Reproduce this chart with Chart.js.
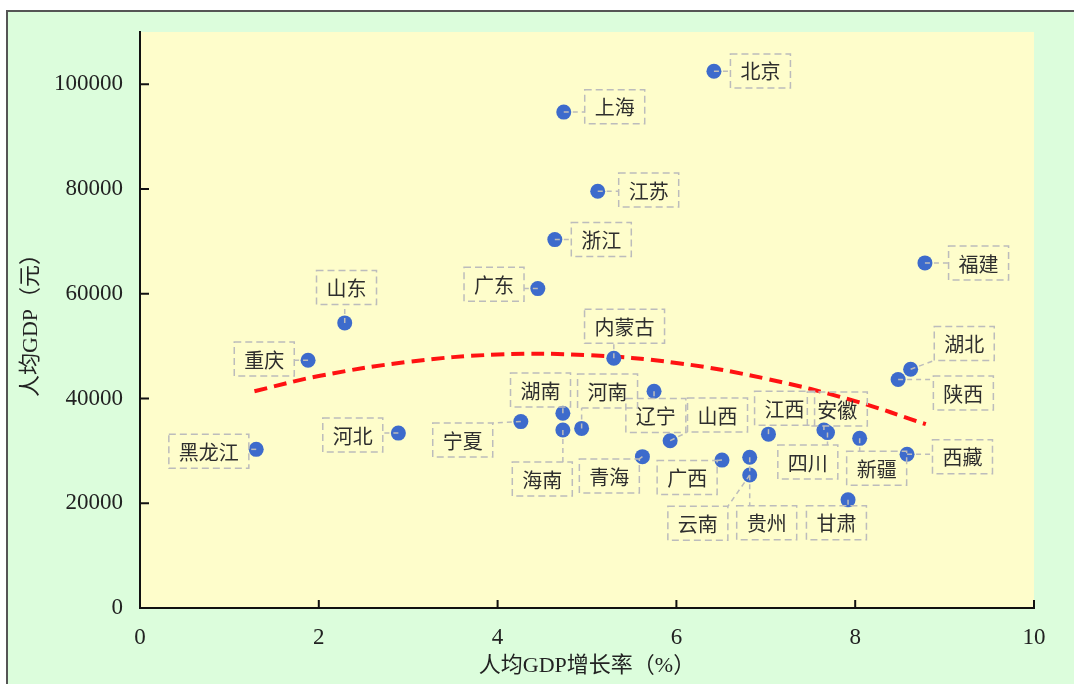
<!DOCTYPE html>
<html><head><meta charset="utf-8">
<script src="https://cdn.jsdelivr.net/npm/chart.js@4.4.0/dist/chart.umd.min.js"></script>
<style>html,body{margin:0;padding:0;background:#fff;}</style>
</head><body>
<canvas id="c" width="1074" height="684"></canvas>
<script>
const provinces = ['北京','上海','江苏','浙江','福建','广东','山东','内蒙古','重庆','湖北','陕西','辽宁','湖南','宁夏','海南','河南','山西','江西','安徽','四川','新疆','河北','黑龙江','西藏','青海','广西','贵州','云南','甘肃'];
const growthRate = [6.42,4.74,5.12,4.64,8.78,4.45,2.29,5.30,1.88,8.62,8.48,5.75,4.73,4.26,4.73,4.94,5.93,7.03,7.65,7.69,8.05,2.89,1.30,8.58,5.62,6.51,6.82,6.82,7.92];
const gdpPerCapita = [102500,94700,79600,70350,65900,61000,54450,47700,47300,45600,43650,41400,37200,35600,34000,34300,31950,33200,34000,33500,32400,33400,30300,29350,28900,28250,28800,25400,20650];
const labelX = [6.94,5.31,5.69,5.16,9.38,3.96,2.31,5.42,1.39,9.22,9.21,5.77,4.48,3.61,4.50,5.23,6.46,7.21,7.80,7.47,8.24,2.38,0.77,9.20,5.25,6.12,7.01,6.24,7.79];
const labelY = [102570,95710,79810,70350,65890,61830,61200,53820,47530,50520,41050,36760,41620,32090,24650,41430,36850,38130,38000,27890,26690,33040,29930,28900,25220,24940,16260,16170,16260];
const trendX = [1.28,2,3,4,5,6,7,8,8.79];
const trendY = [41400,44300,47000,48400,48300,46800,43800,39500,35100];
const xTicks = [0,2,4,6,8,10];
const yTicks = [0,20000,40000,60000,80000,100000];

const SERIF = '"Liberation Serif", "Noto Sans CJK SC", serif';

const bgPlugin = {
  id: 'bg',
  beforeDraw(chart) {
    const {ctx, chartArea: a} = chart;
    ctx.save();
    ctx.fillStyle = '#ffffff';
    ctx.fillRect(0, 0, chart.width, chart.height);
    ctx.fillStyle = '#dcfddc';
    ctx.fillRect(7, 11, chart.width - 7, chart.height - 11);
    ctx.strokeStyle = '#555';
    ctx.lineWidth = 2;
    ctx.beginPath();
    ctx.moveTo(7, chart.height); ctx.lineTo(7, 11); ctx.lineTo(chart.width, 11);
    ctx.stroke();
    ctx.fillStyle = '#fefdcb';
    ctx.fillRect(a.left, a.top, a.right - a.left, a.bottom - a.top);
    ctx.restore();
  }
};

const tickPlugin = {
  id: 'innerTicks',
  afterDraw(chart) {
    const {ctx, scales: {x, y}, chartArea: a} = chart;
    ctx.save();
    ctx.strokeStyle = '#111';
    ctx.lineWidth = 2;
    ctx.beginPath();
    xTicks.forEach(v => {
      if (v === 0) return;
      const p = x.getPixelForValue(v);
      ctx.moveTo(p, a.bottom); ctx.lineTo(p, a.bottom - 8);
    });
    yTicks.forEach(v => {
      if (v === 0) return;
      const p = y.getPixelForValue(v);
      ctx.moveTo(a.left, p); ctx.lineTo(a.left + 9, p);
    });
    ctx.stroke();
    ctx.restore();
  }
};

const labelPlugin = {
  id: 'labels',
  afterDatasetsDraw(chart) {
    const {ctx, scales: {x, y}} = chart;
    ctx.save();
    ctx.font = '20px "Noto Sans CJK SC"';
    ctx.textAlign = 'center';
    ctx.textBaseline = 'middle';
    provinces.forEach((name, i) => {
      const px = x.getPixelForValue(growthRate[i]);
      const py = y.getPixelForValue(gdpPerCapita[i]);
      const cx = x.getPixelForValue(labelX[i]);
      const cy = y.getPixelForValue(labelY[i]);
      const w = ctx.measureText(name).width + 20;
      const h = 34;
      const l = cx - w / 2, r = cx + w / 2, t = cy - h / 2, b = cy + h / 2;
      const qx = Math.min(Math.max(px, l), r);
      const qy = Math.min(Math.max(py, t), b);
      ctx.strokeStyle = '#bcbcbc';
      ctx.lineWidth = 1.5;
      ctx.setLineDash([5, 4]);
      ctx.beginPath(); ctx.moveTo(px, py); ctx.lineTo(qx, qy); ctx.stroke();
      ctx.setLineDash([7, 4]);
      ctx.strokeRect(l, t, w, h);
      ctx.setLineDash([]);
      ctx.fillStyle = '#2e2e2e';
      ctx.fillText(name, cx, cy + 1);
    });
    ctx.restore();
  }
};

new Chart(document.getElementById('c'), {
  data: {
    datasets: [
      {
        type: 'line',
        data: trendX.map((v, i) => ({x: v, y: trendY[i]})),
        borderColor: '#ff1212',
        borderWidth: 4,
        borderDash: [13, 7],
        pointRadius: 0,
        fill: false,
        tension: 0.4,
        order: 2
      },
      {
        type: 'scatter',
        data: growthRate.map((v, i) => ({x: v, y: gdpPerCapita[i]})),
        backgroundColor: '#3d6bcc',
        borderWidth: 0,
        pointRadius: 7.5,
        pointHoverRadius: 7.5,
        order: 1
      }
    ]
  },
  options: {
    responsive: false,
    animation: false,
    devicePixelRatio: 1,
    events: [],
    layout: {padding: {top: 32, right: 40, left: 0, bottom: 0}},
    plugins: {legend: {display: false}, tooltip: {enabled: false}},
    scales: {
      x: {
        type: 'linear', min: 0, max: 10,
        afterBuildTicks: s => { s.ticks = xTicks.map(v => ({value: v})); },
        afterFit: s => { s.height = 76; },
        grid: {display: false, drawTicks: false},
        border: {display: true, color: '#111', width: 2},
        ticks: {padding: 16, color: '#222', font: {family: SERIF, size: 23}, maxRotation: 0, autoSkip: false, callback: v => String(v)},
        title: {display: true, text: '人均GDP增长率（%）', color: '#222', font: {family: SERIF, size: 22}, padding: {top: 0, bottom: 5}}
      },
      y: {
        type: 'linear', min: 0, max: 110000,
        afterBuildTicks: s => { s.ticks = yTicks.map(v => ({value: v})); },
        afterFit: s => { s.width = 140; },
        grid: {display: false, drawTicks: false},
        border: {display: true, color: '#111', width: 2},
        ticks: {padding: 17, color: '#222', font: {family: SERIF, size: 23}, autoSkip: false, callback: v => String(v)},
        title: {display: true, text: '人均GDP（元）', color: '#222', font: {family: SERIF, size: 22}, padding: {top: 18, bottom: 0}}
      }
    }
  },
  plugins: [bgPlugin, tickPlugin, labelPlugin]
});
</script>
</body></html>
